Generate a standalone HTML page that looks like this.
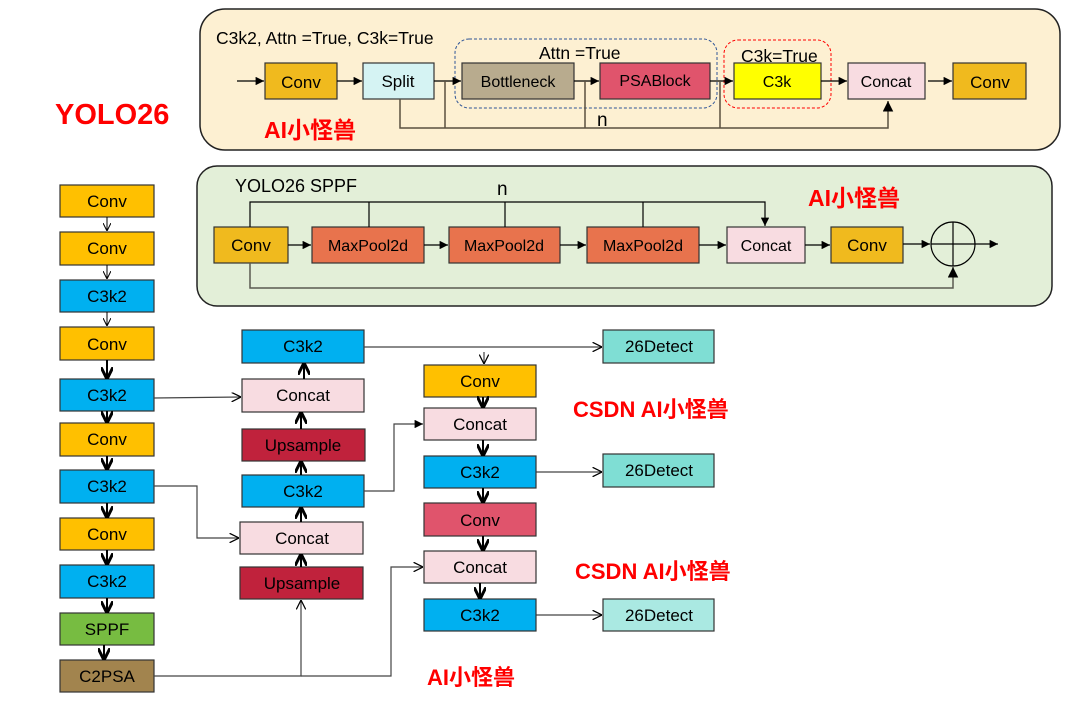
<!DOCTYPE html>
<html><head><meta charset="utf-8"><style>
html,body{margin:0;padding:0;background:#fff;}
svg{display:block;}
text{font-family:"Liberation Sans","Noto Sans CJK SC",sans-serif;}
</style></head><body>
<svg width="1087" height="727" viewBox="0 0 1087 727" xmlns="http://www.w3.org/2000/svg">
<defs>
<marker id="a" viewBox="0 0 10 10" refX="10" refY="5" markerWidth="7" markerHeight="7" orient="auto"><path d="M0,0L10,5L0,10z" fill="#000"/></marker>
<marker id="o" viewBox="0 0 10 10" refX="10" refY="5" markerWidth="8" markerHeight="8" orient="auto"><path d="M0,0L10,5L0,10" fill="none" stroke="#000" stroke-width="1.3"/></marker>
<marker id="b" viewBox="0 0 10 10" refX="9" refY="5" markerWidth="6" markerHeight="6" orient="auto"><path d="M0,0L10,5L0,10" fill="none" stroke="#000" stroke-width="2.5"/></marker>
</defs>

<!-- top panel -->
<rect x="200" y="9" width="860" height="141" rx="25" fill="#fdf0d2" stroke="#222" stroke-width="1.5"/>
<text x="216" y="44" font-size="17.5">C3k2, Attn =True, C3k=True</text>
<rect x="455" y="39" width="262" height="69" rx="14" fill="none" stroke="#2f5597" stroke-dasharray="3,2"/>
<rect x="724" y="40" width="107" height="68" rx="14" fill="none" stroke="#f00" stroke-dasharray="3,2"/>
<text x="539" y="59" font-size="17.5">Attn =True</text>
<text x="741" y="62" font-size="17.5">C3k=True</text>
<g stroke="#333" stroke-width="1.2">
<rect x="265" y="63" width="72" height="36" fill="#f0ba1e"/>
<rect x="363" y="63" width="71" height="36" fill="#d5f3f3"/>
<rect x="462" y="63" width="112" height="36" fill="#b8ab8e"/>
<rect x="600" y="63" width="110" height="36" fill="#e0546c"/>
<rect x="734" y="63" width="87" height="36" fill="#ffff00"/>
<rect x="848" y="63" width="77" height="36" fill="#f8dce1"/>
<rect x="953" y="63" width="73" height="36" fill="#f0ba1e"/>
</g>
<g font-size="17" text-anchor="middle">
<text x="301" y="88">Conv</text><text x="398" y="87">Split</text>
<text x="518" y="87" font-size="16">Bottleneck</text><text x="655" y="86" font-size="16">PSABlock</text>
<text x="777" y="87" font-size="16">C3k</text><text x="886" y="87" font-size="16">Concat</text><text x="990" y="88">Conv</text>
</g>
<g stroke="#000" stroke-width="1.2" fill="none">
<line x1="237" y1="81" x2="264" y2="81" marker-end="url(#a)"/>
<line x1="337" y1="81" x2="362" y2="81" marker-end="url(#a)"/>
<line x1="434" y1="81" x2="461" y2="81" marker-end="url(#a)"/>
<line x1="574" y1="81" x2="599" y2="81" marker-end="url(#a)"/>
<line x1="710" y1="81" x2="733" y2="81" marker-end="url(#a)"/>
<line x1="821" y1="81" x2="847" y2="81" marker-end="url(#a)"/>
<line x1="928" y1="81" x2="952" y2="81" marker-end="url(#a)"/>
</g>
<g stroke="#5a5040" stroke-width="1.5" fill="none">
<polyline points="400,99 400,128 888,128 888,101" marker-end="url(#a)"/>
<line x1="445" y1="81" x2="445" y2="128"/><line x1="585" y1="81" x2="585" y2="128"/><line x1="720" y1="81" x2="720" y2="128"/>
</g>
<text x="597" y="126" font-size="19">n</text>
<text x="264" y="138" font-size="23" font-weight="bold" fill="#f00">AI小怪兽</text>
<text x="55" y="124" font-size="29" font-weight="bold" fill="#f00">YOLO26</text>

<!-- SPPF panel -->
<rect x="197" y="166" width="855" height="140" rx="20" fill="#e3efd8" stroke="#222" stroke-width="1.5"/>
<text x="235" y="192" font-size="18">YOLO26  SPPF</text>
<text x="497" y="195" font-size="19">n</text>
<text x="808" y="206" font-size="23" font-weight="bold" fill="#f00">AI小怪兽</text>
<g stroke="#333" stroke-width="1.2">
<rect x="214" y="227" width="74" height="36" fill="#f0ba1e"/>
<rect x="312" y="227" width="112" height="36" fill="#e8734d"/>
<rect x="449" y="227" width="111" height="36" fill="#e8734d"/>
<rect x="587" y="227" width="112" height="36" fill="#e8734d"/>
<rect x="727" y="227" width="78" height="36" fill="#f8dce1"/>
<rect x="831" y="227" width="72" height="36" fill="#f0ba1e"/>
</g>
<g font-size="17" text-anchor="middle">
<text x="251" y="251">Conv</text><text x="368" y="251" font-size="16">MaxPool2d</text><text x="504" y="251" font-size="16">MaxPool2d</text>
<text x="643" y="251" font-size="16">MaxPool2d</text><text x="766" y="251" font-size="16">Concat</text><text x="867" y="251">Conv</text>
</g>
<g stroke="#000" stroke-width="1.2" fill="none">
<line x1="288" y1="245" x2="311" y2="245" marker-end="url(#a)"/>
<line x1="424" y1="245" x2="448" y2="245" marker-end="url(#a)"/>
<line x1="560" y1="245" x2="586" y2="245" marker-end="url(#a)"/>
<line x1="699" y1="245" x2="726" y2="245" marker-end="url(#a)"/>
<line x1="805" y1="245" x2="830" y2="245" marker-end="url(#a)"/>
<line x1="903" y1="244" x2="930" y2="244" marker-end="url(#a)"/>
<line x1="975" y1="244" x2="998" y2="244" marker-end="url(#a)"/>
<polyline points="250,227 250,202 765,202 765,226" marker-end="url(#a)"/>
<line x1="369" y1="202" x2="369" y2="227"/><line x1="505" y1="202" x2="505" y2="227"/><line x1="643" y1="202" x2="643" y2="227"/>
<circle cx="953" cy="244" r="22"/>
<line x1="931" y1="244" x2="975" y2="244"/><line x1="953" y1="222" x2="953" y2="266"/>
</g>
<polyline points="250,263 250,288 953,288 953,267" fill="none" stroke="#5a5a50" stroke-width="1.5" marker-end="url(#a)"/>

<!-- left column -->
<g stroke="#333" stroke-width="1.2">
<rect x="60" y="185" width="94" height="32" fill="#ffc000"/>
<rect x="60" y="232" width="94" height="33" fill="#ffc000"/>
<rect x="60" y="280" width="94" height="32" fill="#00b0f0"/>
<rect x="60" y="327" width="94" height="33" fill="#ffc000"/>
<rect x="60" y="379" width="94" height="32" fill="#00b0f0"/>
<rect x="60" y="423" width="94" height="33" fill="#ffc000"/>
<rect x="60" y="470" width="94" height="33" fill="#00b0f0"/>
<rect x="60" y="518" width="94" height="32" fill="#ffc000"/>
<rect x="60" y="565" width="94" height="33" fill="#00b0f0"/>
<rect x="60" y="613" width="94" height="32" fill="#77bc41"/>
<rect x="60" y="660" width="94" height="32" fill="#a2844e"/>
</g>
<g font-size="17" text-anchor="middle">
<text x="107" y="207">Conv</text><text x="107" y="254">Conv</text><text x="107" y="302">C3k2</text><text x="107" y="350">Conv</text>
<text x="107" y="401">C3k2</text><text x="107" y="445">Conv</text><text x="107" y="492">C3k2</text><text x="107" y="540">Conv</text>
<text x="107" y="587">C3k2</text><text x="107" y="635">SPPF</text><text x="107" y="682">C2PSA</text>
</g>
<g stroke="#000" stroke-width="1" fill="none">
<line x1="107" y1="217" x2="107" y2="231" marker-end="url(#o)"/>
<line x1="107" y1="265" x2="107" y2="279" marker-end="url(#o)"/>
<line x1="107" y1="312" x2="107" y2="326" marker-end="url(#o)"/>
</g>
<g stroke="#000" stroke-width="2" fill="none">
<line x1="107" y1="360" x2="107" y2="378" marker-end="url(#b)"/>
<line x1="107" y1="411" x2="107" y2="422" marker-end="url(#b)"/>
<line x1="107" y1="456" x2="107" y2="469" marker-end="url(#b)"/>
<line x1="107" y1="503" x2="107" y2="517" marker-end="url(#b)"/>
<line x1="107" y1="550" x2="107" y2="564" marker-end="url(#b)"/>
<line x1="107" y1="598" x2="107" y2="612" marker-end="url(#b)"/>
<line x1="104" y1="645" x2="104" y2="659" marker-end="url(#b)"/>
</g>

<!-- middle column -->
<g stroke="#333" stroke-width="1.2">
<rect x="242" y="330" width="122" height="33" fill="#00b0f0"/>
<rect x="242" y="379" width="122" height="33" fill="#f8dce1"/>
<rect x="242" y="429" width="123" height="32" fill="#c0223c"/>
<rect x="242" y="475" width="122" height="32" fill="#00b0f0"/>
<rect x="240" y="522" width="123" height="32" fill="#f8dce1"/>
<rect x="240" y="567" width="123" height="32" fill="#c0223c"/>
</g>
<g font-size="17" text-anchor="middle">
<text x="303" y="352">C3k2</text><text x="303" y="401">Concat</text><text x="303" y="451">Upsample</text>
<text x="303" y="497">C3k2</text><text x="302" y="544">Concat</text><text x="302" y="589">Upsample</text>
</g>
<g stroke="#000" stroke-width="2" fill="none">
<line x1="304" y1="379" x2="304" y2="364" marker-end="url(#b)"/>
<line x1="301" y1="429" x2="301" y2="413" marker-end="url(#b)"/>
<line x1="301" y1="475" x2="301" y2="462" marker-end="url(#b)"/>
<line x1="301" y1="522" x2="301" y2="508" marker-end="url(#b)"/>
<line x1="301" y1="567" x2="301" y2="555" marker-end="url(#b)"/>
</g>
<g stroke="#444" stroke-width="1.2" fill="none">
<line x1="154" y1="398" x2="241" y2="397" marker-end="url(#o)"/>
<polyline points="154,486 197,486 197,538 239,538" marker-end="url(#o)"/>
<polyline points="154,676 301,676 301,600" marker-end="url(#o)"/>
<polyline points="301,676 391,676 391,567 423,567" marker-end="url(#o)"/>
<polyline points="364,491 394,491 394,424 423,424" marker-end="url(#a)"/>
<line x1="364" y1="347" x2="602" y2="347" marker-end="url(#o)"/>
<line x1="484" y1="352" x2="484" y2="364" marker-end="url(#o)"/>
<line x1="536" y1="472" x2="602" y2="472" marker-end="url(#o)"/>
<line x1="536" y1="615" x2="602" y2="615" marker-end="url(#o)"/>
</g>

<!-- right column -->
<g stroke="#333" stroke-width="1.2">
<rect x="424" y="365" width="112" height="32" fill="#ffc000"/>
<rect x="424" y="408" width="112" height="32" fill="#f8dce1"/>
<rect x="424" y="456" width="112" height="32" fill="#00b0f0"/>
<rect x="424" y="503" width="112" height="33" fill="#e0546c"/>
<rect x="424" y="551" width="112" height="32" fill="#f8dce1"/>
<rect x="424" y="599" width="112" height="32" fill="#00b0f0"/>
<rect x="603" y="330" width="111" height="33" fill="#7fded4"/>
<rect x="603" y="454" width="111" height="33" fill="#7fded4"/>
<rect x="603" y="599" width="111" height="32" fill="#aae9e2"/>
</g>
<g font-size="17" text-anchor="middle">
<text x="480" y="387">Conv</text><text x="480" y="430">Concat</text><text x="480" y="478">C3k2</text>
<text x="480" y="526">Conv</text><text x="480" y="573">Concat</text><text x="480" y="621">C3k2</text>
<text x="659" y="352">26Detect</text><text x="659" y="476">26Detect</text><text x="659" y="621">26Detect</text>
</g>
<g stroke="#000" stroke-width="2" fill="none">
<line x1="483" y1="397" x2="483" y2="407" marker-end="url(#b)"/>
<line x1="483" y1="440" x2="483" y2="455" marker-end="url(#b)"/>
<line x1="483" y1="488" x2="483" y2="502" marker-end="url(#b)"/>
<line x1="483" y1="536" x2="483" y2="550" marker-end="url(#b)"/>
<line x1="480" y1="583" x2="480" y2="598" marker-end="url(#b)"/>
</g>
<g font-size="22" font-weight="bold" fill="#f00">
<text x="573" y="417">CSDN AI小怪兽</text>
<text x="575" y="579">CSDN AI小怪兽</text>
<text x="427" y="685">AI小怪兽</text>
</g>
</svg>
</body></html>
